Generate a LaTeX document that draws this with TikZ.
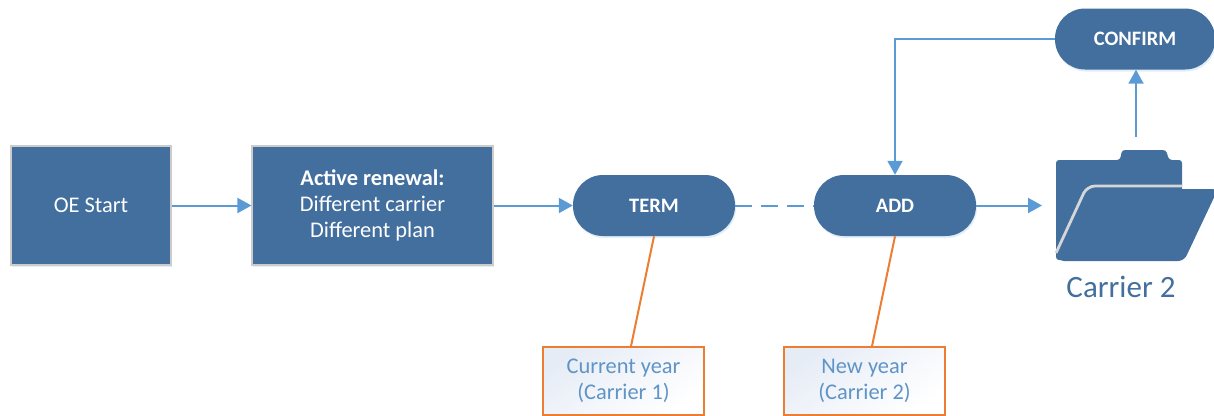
\documentclass[tikz,border=0pt]{standalone}
\usepackage{fontspec}
\setmainfont{Carlito}
\usepackage{xcolor}
\usetikzlibrary{arrows.meta, calc, shadows}
\definecolor{boxblue}{HTML}{436F9E}
\definecolor{linkblue}{HTML}{5B9BD5}
\definecolor{noteorange}{HTML}{ED7D31}
\definecolor{notetext}{HTML}{5F94C6}
\definecolor{notefill}{HTML}{E6ECF6}
\definecolor{gapgray}{HTML}{D4D6D8}
\tikzset{
    softshadow/.style={drop shadow={shadow xshift=1pt, shadow yshift=-2pt, fill=linkblue, opacity=0.18}},
    squarebox/.style={rectangle, draw=black!20, line width=1.1pt, fill=boxblue, text=white, align=center, minimum height=119pt, softshadow},
    pillbox/.style={rectangle, rounded corners=30pt, fill=boxblue, text=white, minimum width=162pt, minimum height=61pt, font=\fontsize{20.5}{26}\selectfont\bfseries, softshadow},
    notebox/.style={rectangle, draw=noteorange, line width=1.6pt, top color=notefill, bottom color=white, shading angle=35, text=notetext, align=center, minimum width=161pt, minimum height=68pt},
    link/.style={draw=linkblue, line width=2pt, -{Triangle[length=14pt, width=15pt]}},
    noteline/.style={draw=noteorange, line width=2pt}
}
\begin{document}
\begin{tikzpicture}[x=1pt, y=1pt, font=\fontsize{22.4}{26}\selectfont]
\useasboundingbox (0,0) rectangle (1214,-415);

\node[squarebox, minimum width=160pt] (start) at (91,-205.5) {OE Start};
\node[squarebox, minimum width=241pt] (renewal) at (372.5,-205.5) {\textbf{Active renewal:}\\Different carrier\\Different plan};
\node[pillbox] (term) at (654,-205.5) {TERM};
\node[pillbox] (add) at (895,-205.5) {ADD};
\node[pillbox, minimum width=160pt] (confirm) at (1135,-39) {CONFIRM};
\node[notebox] (current) at (623.5,-381) {Current year\\(Carrier 1)};
\node[notebox] (newyear) at (864.5,-381) {New year\\(Carrier 2)};

% folder icon
\fill[boxblue, rounded corners=3pt] (1056,-260) -- (1056,-160) -- (1120,-160) -- (1122,-150) -- (1166,-150) -- (1169,-160) -- (1182,-160) -- (1182,-195) -- (1100,-260) -- cycle;
\fill[boxblue, rounded corners=6pt] (1058,-261) -- (1090,-189) -- (1218,-189) -- (1184,-261) -- cycle;
\draw[gapgray, line width=2.8pt, rounded corners=8pt] (1056,-253) -- (1087,-186) -- (1182,-186);
\node[text=boxblue, font=\fontsize{31}{36}\selectfont] (folderlabel) at (1121,-287) {Carrier 2};
\coordinate (folderin) at (1042,-205.5);
\coordinate (folderout) at (1136,-137);

\draw[link] (start) -- (renewal);
\draw[link] (renewal) -- (term);
\draw[draw=linkblue, line width=2pt, dash pattern=on 17pt off 9pt] (term) -- (add);
\draw[link] (add) -- (folderin);
\draw[link] (folderout) -- (folderout |- confirm.south);
\draw[link] (confirm.west) -- (add.north |- confirm.west) -- (add.north);
\draw[noteline] (term.south) -- ($(current.north)+(7.5,0)$);
\draw[noteline] (add.south) -- ($(newyear.north)+(7.5,0)$);
\end{tikzpicture}
\end{document}
